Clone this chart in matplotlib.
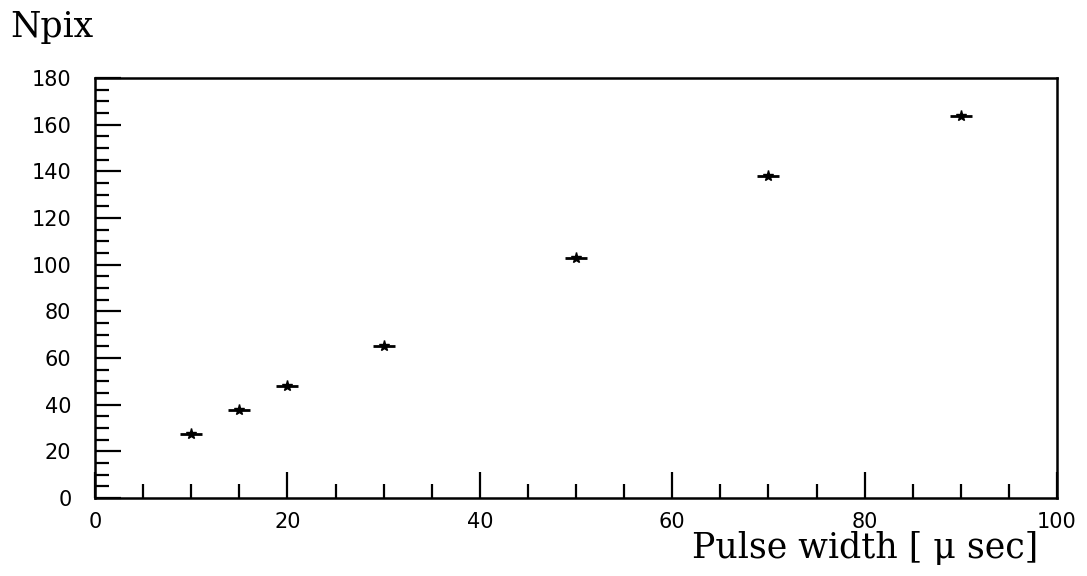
import matplotlib
matplotlib.use("Agg")
import matplotlib.pyplot as plt
from matplotlib.ticker import MultipleLocator

# pulse width (usec) vs number of pixels
pulse_width = [10, 15, 20, 30, 50, 70, 90]
npix = [27.4, 37.6, 48.2, 65.2, 103.0, 138.2, 163.8]
width_err = [1.15, 1.15, 1.15, 1.15, 1.15, 1.15, 1.15]

fig = plt.figure(figsize=(10.87, 5.76), dpi=100)
ax = fig.add_axes([0.0874, 0.1354, 0.885, 0.729])

ax.errorbar(pulse_width, npix, xerr=width_err, fmt='*', color='black',
            markersize=8, elinewidth=2.0, capsize=0)

ax.set_xlim(0, 100)
ax.set_ylim(0, 180)
ax.xaxis.set_major_locator(MultipleLocator(20))
ax.xaxis.set_minor_locator(MultipleLocator(5))
ax.yaxis.set_major_locator(MultipleLocator(20))
ax.yaxis.set_minor_locator(MultipleLocator(5))

ax.tick_params(which='both', direction='in', top=False, right=False,
               width=1.6, colors='black')
ax.tick_params(which='major', length=19, labelsize=15)
ax.tick_params(axis='x', which='major', pad=10)
ax.tick_params(axis='y', which='major', pad=17)
ax.tick_params(which='minor', length=10)
for lab in ax.get_xticklabels() + ax.get_yticklabels():
    lab.set_family('DejaVu Sans')

for s in ax.spines.values():
    s.set_linewidth(1.8)

fig.text(0.009, 0.935, "Npix", family='DejaVu Serif', fontsize=25,
         ha='left', va='baseline')
fig.text(0.955, 0.031, "Pulse width [ \u03bc sec]", family='DejaVu Serif',
         fontsize=25, ha='right', va='baseline')

fig.savefig("out.png", dpi=100)
